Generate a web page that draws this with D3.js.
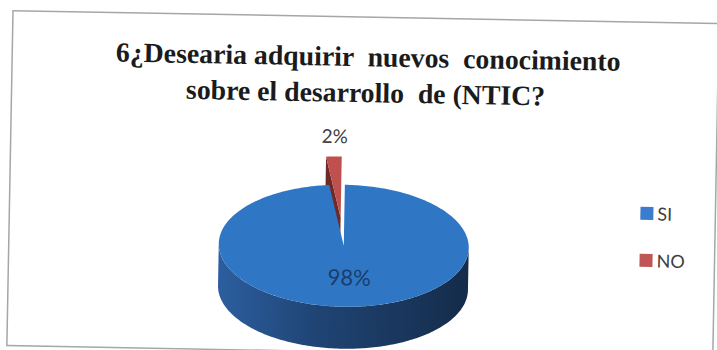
<!DOCTYPE html>
<html>
<head>
<meta charset="utf-8">
<script src="https://cdn.jsdelivr.net/npm/d3@7"></script>
<style>
  html, body { margin: 0; padding: 0; background: #ffffff; }
  svg { display: block; }
  text { white-space: pre; }
</style>
</head>
<body>
<svg id="chart" width="717" height="350"></svg>
<script>
// Survey answers
const categories = ["SI", "NO"];
const values = [98, 2];
const valueLabels = ["98%", "2%"];
const titleLines = [
  "6¿Desearia adquirir  nuevos  conocimiento",
  "sobre el desarrollo  de (NTIC?"
];

const W = 717, H = 350;
const svg = d3.select("#chart");

// The printed page sits slightly askew
const root = svg.append("g").attr("transform", "rotate(1.05, 358, 178)");

root.append("rect")
  .attr("x", 10).attr("y", 17)
  .attr("width", 706).attr("height", 335)
  .attr("fill", "#ffffff")
  .attr("stroke", "#a6a6a6")
  .attr("stroke-width", 1.5);

// Title
const title = root.append("g")
  .attr("font-family", "'Liberation Serif', 'Times New Roman', serif")
  .attr("font-weight", "bold")
  .attr("fill", "#1b1b1b")
  .attr("text-anchor", "middle");
const t1 = title.append("text").attr("x", 366).attr("y", 66).attr("font-size", 23).text(titleLines[0]);
const fitSize = 23 * 505 / t1.node().getComputedTextLength();
t1.attr("font-size", fitSize);
title.append("text").attr("x", 364).attr("y", 102).attr("font-size", fitSize).text(titleLines[1]);

// 3D pie geometry
const cx = 345, cy = 246, rx = 125, ry = 61, depth = 42;
const color = d3.scaleOrdinal().domain(categories).range(["#2f77c5", "#c0504d"]);
const wallColor = d3.scaleOrdinal().domain(categories).range(["#1d3f6c", "#6e2a28"]);
const explode = d3.scaleOrdinal().domain(categories).range([0, 58]);

const arcs = d3.pie().sort(null).value(d => d)(values)
  .map((a, i) => Object.assign(a, { cat: categories[i], label: valueLabels[i] }));

function offset(a) {
  const m = (a.startAngle + a.endAngle) / 2, d = explode(a.cat);
  return [d * Math.sin(m), -d * (ry / rx) * Math.cos(m)];
}
function pt(a, theta, r, dz) {
  const [ox, oy] = offset(a);
  return [cx + ox + rx * r * Math.sin(theta), cy + oy - ry * r * Math.cos(theta) + dz];
}
function samples(a0, a1) {
  const n = Math.max(2, Math.ceil(Math.abs(a1 - a0) / 0.02));
  return d3.range(n + 1).map(k => a0 + (a1 - a0) * k / n);
}
const line = d3.line();

// Side gradient for the front wall
const defs = svg.append("defs");
const grad = defs.append("linearGradient").attr("id", "sideGrad")
  .attr("x1", "0").attr("x2", "1").attr("y1", "0").attr("y2", "0");
grad.append("stop").attr("offset", "0%").attr("stop-color", "#2c5e9f");
grad.append("stop").attr("offset", "40%").attr("stop-color", "#1f4474");
grad.append("stop").attr("offset", "100%").attr("stop-color", "#152c4a");

const pie = root.append("g");

// Draw back slice first, then the front one
const order = arcs.slice().sort((p, q) => explode(q.cat) - explode(p.cat));
order.forEach(a => {
  const g = pie.append("g");
  // radial wall at the start edge
  const c0 = pt(a, 0, 0, 0), r0 = pt(a, a.startAngle, 1, 0);
  const wall = [c0, r0, [r0[0], r0[1] + depth], [c0[0], c0[1] + depth]];
  g.append("path").attr("d", line(wall) + "Z").attr("fill", wallColor(a.cat));
  // outer wall on the visible front half
  const lo = Math.max(a.startAngle, Math.PI / 2), hi = Math.min(a.endAngle, 3 * Math.PI / 2);
  if (hi > lo) {
    const topEdge = samples(lo, hi).map(t => pt(a, t, 1, 0));
    const botEdge = samples(hi, lo).map(t => pt(a, t, 1, depth));
    g.append("path").attr("d", line(topEdge.concat(botEdge)) + "Z")
      .attr("fill", a.cat === "SI" ? "url(#sideGrad)" : wallColor(a.cat));
  }
  // top face
  const face = [pt(a, 0, 0, 0)].concat(samples(a.startAngle, a.endAngle).map(t => pt(a, t, 1, 0)));
  g.append("path").attr("d", line(face) + "Z").attr("fill", color(a.cat));
});

// Value labels
const labelPos = { "SI": [351, 277], "NO": [334, 136] };
const labelSize = { "SI": 22, "NO": 19 };
const labelFill = { "SI": "#1b3d6c", "NO": "#404040" };
root.append("g")
  .attr("font-family", "Lato, 'Open Sans', sans-serif")
  .attr("text-anchor", "middle")
  .attr("dominant-baseline", "central")
  .selectAll("text").data(arcs).join("text")
  .attr("x", d => labelPos[d.cat][0])
  .attr("y", d => labelPos[d.cat][1])
  .attr("font-size", d => labelSize[d.cat])
  .attr("fill", d => labelFill[d.cat])
  .text(d => d.label);

// Legend
const legendY = d3.scalePoint().domain(categories).range([208, 255]);
const legend = root.append("g").attr("font-family", "Lato, 'Open Sans', sans-serif");
const items = legend.selectAll("g").data(categories).join("g")
  .attr("transform", d => `translate(641, ${legendY(d)})`);
items.append("rect").attr("x", 0).attr("y", -6.5).attr("width", 13).attr("height", 13)
  .attr("fill", d => d === "SI" ? "#3a7ccd" : "#bf5654");
items.append("text").attr("x", 17).attr("y", 0).attr("dominant-baseline", "central")
  .attr("font-size", 18).attr("fill", "#404040").text(d => d);
</script>
</body>
</html>
